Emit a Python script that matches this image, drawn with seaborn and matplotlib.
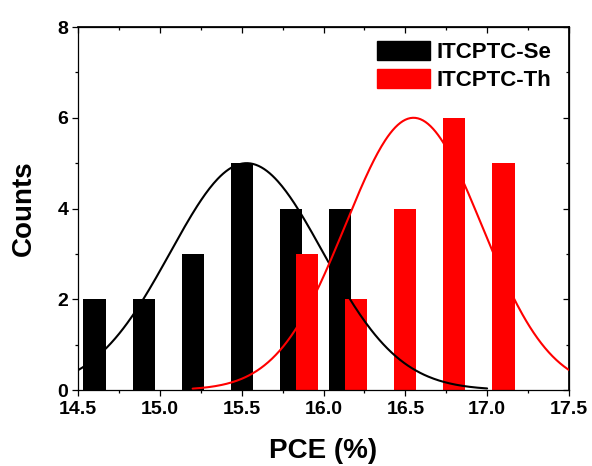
import numpy as np
import pandas as pd
import seaborn as sns
import matplotlib
matplotlib.use("Agg")
import matplotlib.pyplot as plt
from matplotlib.patches import Patch
from matplotlib.ticker import MultipleLocator

# ---- data ----
se_pce = [14.6, 14.9, 15.2, 15.5, 15.8, 16.1]
se_counts = [2, 2, 3, 5, 4, 4]
th_pce = [15.9, 16.2, 16.5, 16.8, 17.1]
th_counts = [3, 2, 4, 6, 5]

# Gaussian fit parameters (amplitude, centre, sigma, x-range)
se_fit = dict(amp=5.0, mu=15.53, sigma=0.467, xmin=14.5, xmax=17.0)
th_fit = dict(amp=6.0, mu=16.55, sigma=0.416, xmin=15.2, xmax=17.5)

labels = ["ITCPTC-Se", "ITCPTC-Th"]
colors = ["#000000", "#ff0000"]

sns.set_theme(style="white")
plt.rcParams["font.family"] = ["Liberation Sans", "DejaVu Sans"]
plt.rcParams["font.weight"] = "bold"
for k in ["text.color", "axes.labelcolor", "xtick.color", "ytick.color", "axes.edgecolor"]:
    plt.rcParams[k] = "black"

fig = plt.figure(figsize=(5.92, 4.66), dpi=100)
ax = fig.add_axes([0.132, 0.163, 0.829, 0.779])

df_se = pd.DataFrame({"PCE": se_pce, "Counts": se_counts})
df_th = pd.DataFrame({"PCE": th_pce, "Counts": th_counts})

sns.barplot(data=df_se, x="PCE", y="Counts", native_scale=True, width=0.45,
            color=colors[0], saturation=1, errorbar=None, linewidth=0, ax=ax)
sns.barplot(data=df_th, x="PCE", y="Counts", native_scale=True, width=0.45,
            color=colors[1], saturation=1, errorbar=None, linewidth=0, ax=ax)


def gauss_curve(p):
    xs = np.linspace(p["xmin"], p["xmax"], 300)
    ys = p["amp"] * np.exp(-(xs - p["mu"]) ** 2 / (2 * p["sigma"] ** 2))
    return xs, ys


for p, c in zip([se_fit, th_fit], colors):
    xs, ys = gauss_curve(p)
    sns.lineplot(x=xs, y=ys, color=c, linewidth=1.5, ax=ax, clip_on=True)

ax.set_xlim(14.5, 17.5)
ax.set_ylim(0, 8)
ax.xaxis.set_major_locator(MultipleLocator(0.5))
ax.xaxis.set_minor_locator(MultipleLocator(0.25))
ax.yaxis.set_major_locator(MultipleLocator(2))
ax.yaxis.set_minor_locator(MultipleLocator(1))
ax.xaxis.set_major_formatter(matplotlib.ticker.FormatStrFormatter("%.1f"))
ax.yaxis.set_major_formatter(matplotlib.ticker.FormatStrFormatter("%d"))

for s in ax.spines.values():
    s.set_visible(True)
    s.set_color("black")
    s.set_linewidth(0.9)

ax.tick_params(axis="both", which="major", direction="out", length=4, width=0.9,
               labelsize=14, colors="black", bottom=True, left=True)
ax.tick_params(axis="x", which="major", pad=4)
ax.tick_params(axis="y", which="major", pad=3)
ax.tick_params(axis="both", which="minor", direction="out", length=2.5, width=0.9,
               bottom=True, left=True)
for lab in ax.get_xticklabels() + ax.get_yticklabels():
    lab.set_fontweight("bold")

# mirrored inward ticks on top and right
secx = ax.secondary_xaxis("top")
secx.xaxis.set_major_locator(MultipleLocator(0.5))
secx.xaxis.set_minor_locator(MultipleLocator(0.25))
secx.tick_params(which="major", direction="in", length=4, width=0.9, labeltop=False)
secx.tick_params(which="minor", direction="in", length=2.5, width=0.9)
secy = ax.secondary_yaxis("right")
secy.yaxis.set_major_locator(MultipleLocator(2))
secy.yaxis.set_minor_locator(MultipleLocator(1))
secy.tick_params(which="major", direction="in", length=4, width=0.9, labelright=False)
secy.tick_params(which="minor", direction="in", length=2.5, width=0.9)

ax.set_xlabel("PCE (%)", fontsize=20, fontweight="bold", labelpad=14)
ax.set_ylabel("Counts", fontsize=20, fontweight="bold", labelpad=15)

handles = [Patch(facecolor=c, edgecolor=c) for c in colors]
leg = ax.legend(handles, labels, loc="upper right", bbox_to_anchor=(0.991, 0.999),
                frameon=False, prop=dict(size=16, weight="bold"),
                handlelength=2.35, handleheight=0.95, handletextpad=0.3,
                labelspacing=0.25, borderaxespad=0.2)

fig.savefig("out.png", dpi=100)
